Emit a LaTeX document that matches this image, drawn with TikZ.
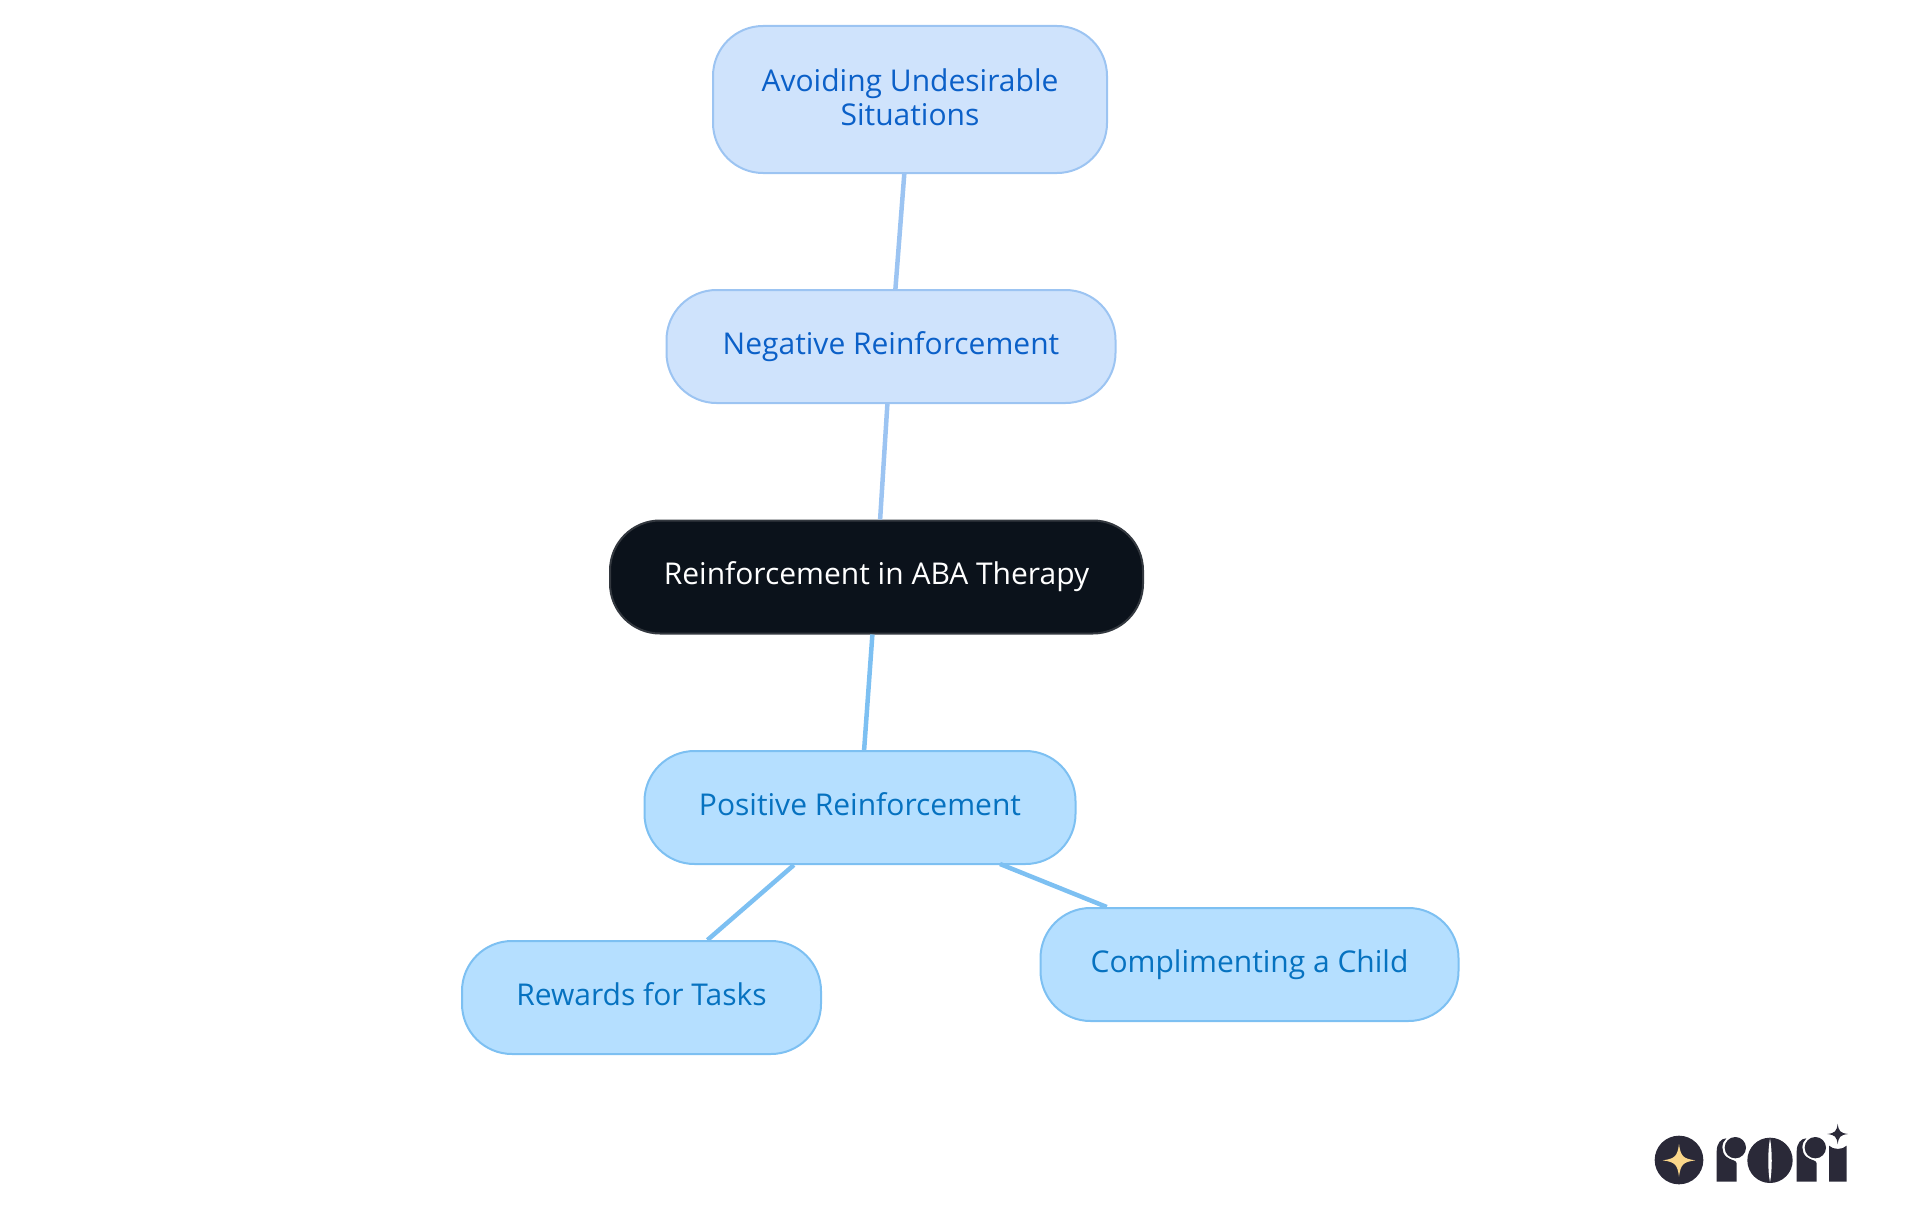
\documentclass[tikz,border=0pt]{standalone}
\usepackage{fontspec}
\setmainfont{Open Sans}
\definecolor{negfill}{HTML}{CFE3FC}
\definecolor{negline}{HTML}{9CC4F2}
\definecolor{negtext}{HTML}{0B60C8}
\definecolor{posfill}{HTML}{B5DFFF}
\definecolor{posline}{HTML}{7DC0F2}
\definecolor{postext}{HTML}{0672C0}
\definecolor{rootfill}{HTML}{0B121B}
\definecolor{rootline}{HTML}{33383F}
\definecolor{logodark}{HTML}{2A2938}
\definecolor{logostar}{HTML}{FBD78A}
\tikzset{
  box/.style = {rounded corners=50, line width=2, inner sep=0, align=center,
    text height=24, text depth=8.6, font=\fontsize{30}{34.5}\selectfont},
  negbox/.style = {box, draw=negline, fill=negfill, text=negtext},
  posbox/.style = {box, draw=posline, fill=posfill, text=postext},
  rootbox/.style = {box, draw=rootline, fill=rootfill, text=white},
  negedge/.style = {draw=negline, line width=4.5},
  posedge/.style = {draw=posline, line width=4.5}
}
\def\sparkle#1#2#3{(#1-#3,#2) .. controls (#1-.25*#3,#2-.1*#3) and (#1-.1*#3,#2-.25*#3) .. (#1,#2-#3)
  .. controls (#1+.1*#3,#2-.25*#3) and (#1+.25*#3,#2-.1*#3) .. (#1+#3,#2)
  .. controls (#1+.25*#3,#2+.1*#3) and (#1+.1*#3,#2+.25*#3) .. (#1,#2+#3)
  .. controls (#1-.1*#3,#2+.25*#3) and (#1-.25*#3,#2+.1*#3) .. (#1-#3,#2) -- cycle}
\def\logor#1{
\fill[logodark, shift={(#1,0)}] (290,260) -- (290,170) .. controls (290,145) and (303,130) .. (319,130)
  .. controls (304,142) and (302,172) .. (320,186) .. controls (332,196) and (350,195) .. (350,205)
  -- (350,260) -- cycle;
\fill[logodark, shift={(#1,0)}] (346,158) circle [radius=32];
}
\begin{document}
\begin{tikzpicture}[x=1pt, y=-1pt]
\useasboundingbox (0,0) rectangle (1920,1215);
\node[negbox, text height=61, minimum width=394, minimum height=147] (avoid) at (910,99.5) {Avoiding Undesirable\\Situations};
\node[negbox, minimum width=449, minimum height=113] (negative) at (891,346.5) {Negative Reinforcement};
\node[rootbox, minimum width=533, minimum height=113] (root) at (876.5,577) {Reinforcement in ABA Therapy};
\node[posbox, minimum width=431, minimum height=113] (positive) at (860,807.5) {Positive Reinforcement};
\node[posbox, minimum width=359, minimum height=113] (rewards) at (641.5,997.5) {Rewards for Tasks};
\node[posbox, minimum width=418, minimum height=113] (child) at (1249.5,964.5) {Complimenting a Child};
\coordinate (childfoot) at (1000,864);
\draw[negedge] (avoid) -- (negative);
\draw[negedge] (negative) -- (root);
\draw[posedge] (root) -- (positive);
\draw[posedge] (positive) -- (rewards);
\draw[posedge] (childfoot) -- (child);
% logo
\begin{scope}[shift={(1620,1095)}, scale=1/3]
\fill[logodark] (177,195) circle [radius=73];
\fill[logostar] \sparkle{177}{196}{49};
\logor{0}
\logor{240}
\fill[logodark] (450,196) circle [radius=68];
\fill[white] (450,130) .. controls (457,170) and (457,225) .. (450,262) .. controls (443,225) and (443,170) .. (450,130) -- cycle;
\fill[logodark] (627,260) -- (627,152) .. controls (640,165) and (667,165) .. (680,152) -- (680,260) -- cycle;
\fill[logodark] \sparkle{653}{117}{31};
\end{scope}
\end{tikzpicture}
\end{document}
